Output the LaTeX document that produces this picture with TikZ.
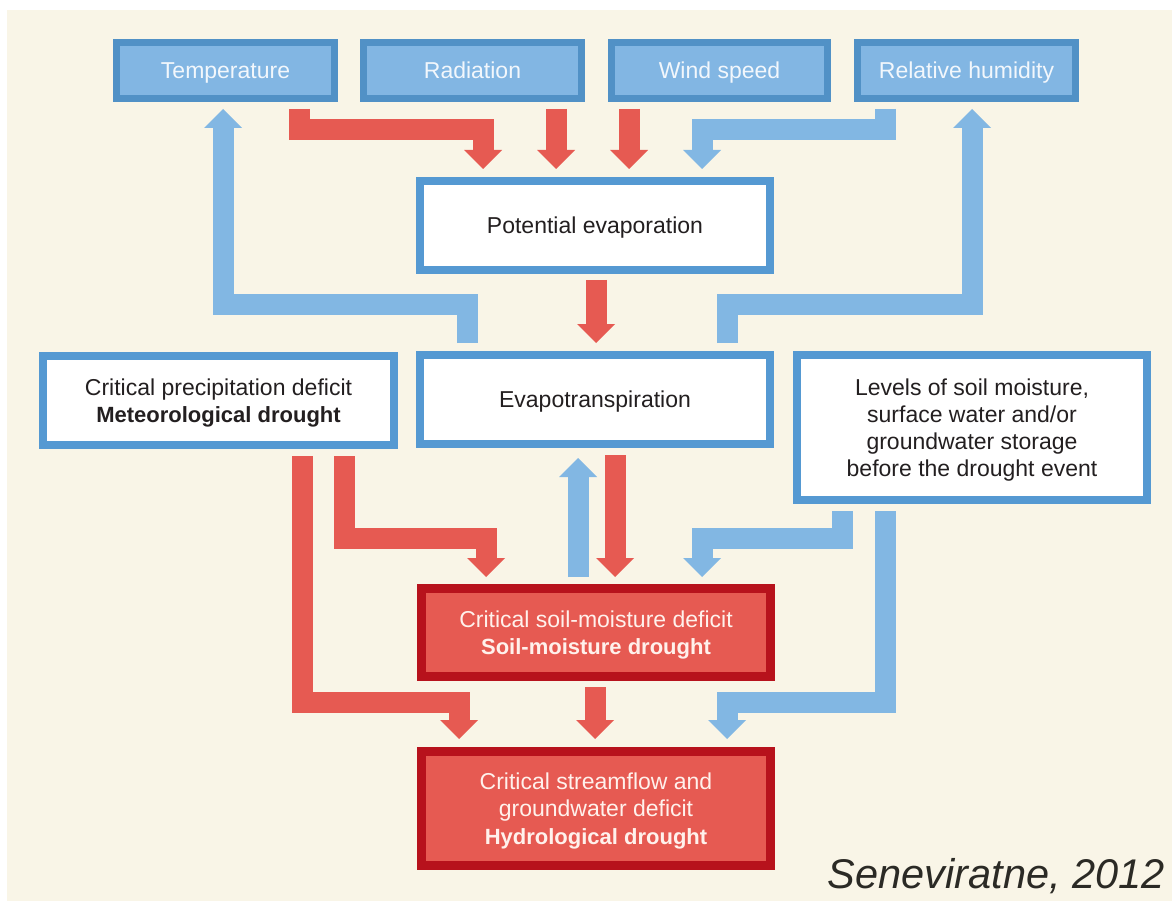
\documentclass[tikz,border=0pt]{standalone}
\usepackage{fontspec}
\setmainfont{Liberation Sans}
\usetikzlibrary{arrows.meta}
\definecolor{cream}{HTML}{F9F5E7}
\definecolor{topborder}{HTML}{5191C6}
\definecolor{topfill}{HTML}{82B6E3}
\definecolor{toptext}{HTML}{F2F7FC}
\definecolor{boxborder}{HTML}{5599D2}
\definecolor{darktext}{HTML}{231F20}
\definecolor{bluearr}{HTML}{82B7E3}
\definecolor{redarr}{HTML}{E65A52}
\definecolor{darkred}{HTML}{B7121C}
\definecolor{redfill}{HTML}{E65A52}
\definecolor{redtext}{HTML}{FFF1EC}
\definecolor{captext}{HTML}{2B2A25}
\begin{document}
\begin{tikzpicture}[x=1pt,y=-1pt,
  topbox/.style={draw=topborder, fill=topfill, line width=7pt, minimum width=218pt, minimum height=56pt, inner sep=0pt, text depth=0pt, text=toptext, font=\fontsize{23}{27}\selectfont},
  whitebox/.style={draw=boxborder, fill=white, line width=8pt, inner sep=0pt, text depth=0pt, text=darktext, align=center, font=\fontsize{23}{27.2}\selectfont},
  redbox/.style={draw=darkred, fill=redfill, line width=9pt, inner sep=0pt, text depth=0pt, text=redtext, align=center, font=\fontsize{23}{27.2}\selectfont},
  flow/.style={line width=21pt, line cap=butt, line join=miter, -{Triangle[width=38pt,length=19pt,line width=0pt]}},
  redflow/.style={flow, draw=redarr},
  blueflow/.style={flow, draw=bluearr}
]
\useasboundingbox (0,0) rectangle (1172,901);
\fill[cream] (7,10) rectangle (1172,901);

% top row
\node[topbox] (T) at (225.5,70.5) {Temperature};
\node[topbox] (R) at (472.5,70.5) {Radiation};
\node[topbox, minimum width=216pt] (W) at (719.5,70.5) {Wind speed};
\node[topbox] (H) at (966.5,70.5) {Relative humidity};

% white boxes
\node[whitebox, minimum width=350pt, minimum height=89pt] (PE) at (595,225.5) {Potential evaporation};
\node[whitebox, minimum width=350pt, minimum height=89pt] (ET) at (595,399.5) {Evapotranspiration};
\node[whitebox, minimum width=351pt, minimum height=89pt] (MD) at (218.5,400.5) {Critical precipitation deficit\\{\bfseries\fontsize{22}{27}\selectfont Meteorological drought}};
\node[whitebox, minimum width=350pt, minimum height=145pt] (LV) at (972,427.5) {Levels of soil moisture,\\surface water and/or\\groundwater storage\\before the drought event};

% red boxes
\node[redbox, minimum width=349pt, minimum height=88pt] (SM) at (596,632.5) {Critical soil-moisture deficit\\{\bfseries\fontsize{22}{27}\selectfont Soil-moisture drought}};
\node[redbox, minimum width=349pt, minimum height=114pt] (HY) at (596,808.5) {Critical streamflow and\\groundwater deficit\\{\bfseries\fontsize{22}{27}\selectfont Hydrological drought}};

% caption
\node[anchor=base east, inner sep=0pt, text=captext, font=\fontsize{41.5}{46}\selectfont\itshape] (cap) at (1165,888) {Seneviratne, 2012};

% arrows into potential evaporation
\draw[redflow] ([xshift=73.5pt,yshift=-7pt]T.south) |- ([xshift=-112pt,yshift=47.5pt]PE.north) -- ([xshift=-112pt,yshift=8pt]PE.north);
\draw[redflow] ([xshift=83.5pt,yshift=-7pt]R.south) -- ([xshift=-39pt,yshift=8pt]PE.north);
\draw[redflow] ([xshift=-90.5pt,yshift=-7pt]W.south) -- ([xshift=34pt,yshift=8pt]PE.north);
\draw[blueflow] ([xshift=-81.5pt,yshift=-7pt]H.south) |- ([xshift=107pt,yshift=47.5pt]PE.north) -- ([xshift=107pt,yshift=8pt]PE.north);

% potential evaporation -> evapotranspiration
\draw[redflow] ([xshift=1pt,yshift=-6pt]PE.south) -- ([xshift=1pt,yshift=8pt]ET.north);

% feedback from evapotranspiration
\draw[blueflow] ([xshift=-127.5pt,yshift=8pt]ET.north) |- ([xshift=-2.5pt,yshift=-202.5pt]T.south) -- ([xshift=-2.5pt,yshift=-7pt]T.south);
\draw[blueflow] ([xshift=132.5pt,yshift=8pt]ET.north) |- ([xshift=5.5pt,yshift=-202.5pt]H.south) -- ([xshift=5.5pt,yshift=-7pt]H.south);

% meteorological drought
\draw[redflow] ([xshift=126pt,yshift=-7pt]MD.south) |- ([xshift=-110pt,yshift=46pt]SM.north) -- ([xshift=-110pt,yshift=7pt]SM.north);
\draw[redflow] ([xshift=84pt,yshift=-7pt]MD.south) |- ([xshift=-137pt,yshift=44.5pt]HY.north) -- ([xshift=-137pt,yshift=8pt]HY.north);

% soil moisture <-> evapotranspiration
\draw[blueflow] ([xshift=-18pt,yshift=7pt]SM.north) -- ([xshift=-17pt,yshift=-10pt]ET.south);
\draw[redflow] ([xshift=20pt,yshift=-7pt]ET.south) -- ([xshift=19pt,yshift=7pt]SM.north);

% storage levels
\draw[blueflow] ([xshift=-129.5pt,yshift=-7pt]LV.south) |- ([xshift=106pt,yshift=46pt]SM.north) -- ([xshift=106pt,yshift=7pt]SM.north);
\draw[blueflow] ([xshift=-87pt,yshift=-7pt]LV.south) |- ([xshift=131pt,yshift=44.5pt]HY.north) -- ([xshift=131pt,yshift=8pt]HY.north);

% soil moisture -> hydrological
\draw[redflow] ([xshift=-1pt,yshift=-6pt]SM.south) -- ([xshift=-1pt,yshift=8pt]HY.north);
\end{tikzpicture}
\end{document}
